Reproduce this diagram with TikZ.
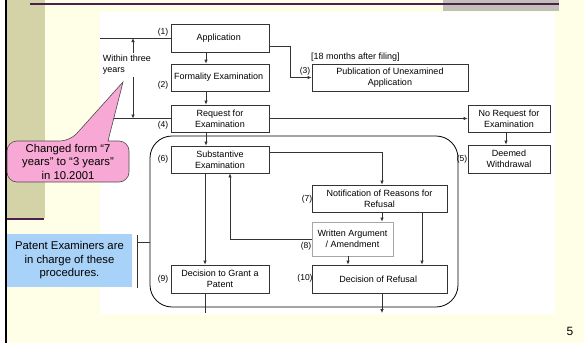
\documentclass[tikz,border=0pt]{standalone}
\usepackage{fontspec}
\setmainfont{Liberation Sans}
\usetikzlibrary{arrows.meta}
\definecolor{slidecream}{RGB}{255,255,232}
\definecolor{slideolive}{RGB}{212,210,167}
\definecolor{slidegray}{RGB}{192,192,184}
\definecolor{slidepurple}{RGB}{78,30,78}
\definecolor{notepink}{RGB}{248,168,212}
\definecolor{noteblue}{RGB}{168,210,248}
\begin{document}
\begin{tikzpicture}[x=1pt,y=-1pt,>={Latex[length=4pt,width=3.5pt]},
    box/.style={draw=black!80,line width=0.7pt,align=center,inner sep=1pt,
      font=\fontsize{9}{11}\selectfont},
    numlbl/.style={inner sep=0pt,font=\fontsize{8.5}{10}\selectfont},
    note/.style={align=center,inner sep=0pt,font=\fontsize{11.3}{13.5}\selectfont},
    flow/.style={line width=0.7pt,draw=black!80}]
      \useasboundingbox (0,0) rectangle (584,343);
      % Slide background
      \fill[white] (0,0) rectangle (584,343);
      \fill[slidecream] (6,0) rectangle (584,343);
      \fill[slideolive] (6,0) rectangle (45,218);
      \fill[slidegray] (443,0) rectangle (559,11);
      \fill[white] (100,12) rectangle (555,314);
      \draw[slidepurple,line width=2pt] (30,4) -- (559,4);
      \draw[slidepurple,line width=2pt] (6,219) -- (44,219);
      \draw[line width=1.5pt] (6,0) -- (6,343);
      % Nodes: Procedure boxes
      \node[box,minimum width=98pt,minimum height=28pt] (app) at (220,38) { Application };
      \node[box,minimum width=98pt,minimum height=27pt] (form) at (220,77.5) { Formality Examination };
      \node[box,minimum width=98pt,minimum height=27pt] (req) at (220,118.5) { Request for\\Examination };
      \node[box,minimum width=98pt,minimum height=27pt] (subst) at (220,159.5) { Substantive\\Examination };
      \node[box,minimum width=98pt,minimum height=28pt] (grant) at (220,279) { Decision to Grant a\\Patent };
      \node[box,minimum width=156pt,minimum height=27pt] (pub) at (390,77.5) { Publication of Unexamined\\Application };
      \node[box,minimum width=82pt,minimum height=27pt] (noreq) at (509,118.5) { No Request for\\Examination };
      \node[box,minimum width=82pt,minimum height=28pt] (withdr) at (509,159) { Deemed\\Withdrawal };
      \node[box,minimum width=135pt,minimum height=27pt] (notif) at (379.5,198.5) { Notification of Reasons for\\Refusal };
      \node[box,draw=black!35,minimum width=81pt,minimum height=34pt] (written) at (352.5,239) { Written Argument\\/ Amendment };
      \node[box,minimum width=135pt,minimum height=28pt] (refusal) at (379.5,279) { Decision of Refusal };
      \node[draw,line width=0.8pt,rounded corners=22pt,minimum width=308pt,minimum height=171pt] (exam) at (304,221.5) {};
      % Nodes: Step numbers
      \node[numlbl] (l1) at (163,32) { (1) };
      \node[numlbl] (l2) at (163,85) { (2) };
      \node[numlbl] (l3) at (305,71) { (3) };
      \node[numlbl] (l4) at (163,125) { (4) };
      \node[numlbl] (l5) at (462,159) { (5) };
      \node[numlbl] (l6) at (163,159) { (6) };
      \node[numlbl] (l7) at (307,199) { (7) };
      \node[numlbl] (l8) at (306,246) { (8) };
      \node[numlbl] (l9) at (163,279) { (9) };
      \node[numlbl] (l10) at (305,278) { (10) };
      \node[numlbl,anchor=west,font=\fontsize{9}{11}\selectfont] (lag) at (311,57) { [18 months after filing] };
      \node[align=left,inner sep=2pt,font=\fontsize{9}{11}\selectfont] (within) at (127,65) { Within three\\years };
      % Arrows: main flow
      \draw[flow,->] ([xshift=-14pt]app.south) -- ([xshift=-14pt]form.north);
      \draw[flow,->] ([xshift=-14pt]form.south) -- ([xshift=-14pt]req.north);
      \draw[flow,->] ([xshift=-14pt]req.south) -- ([xshift=-14pt]subst.north);
      \draw[flow,->] ([xshift=-15pt]subst.south) -- ([xshift=-15pt]grant.north);
      \coordinate (bend3) at (290,77.5);
      \draw[flow,->] ([yshift=-8pt]app.east) -| (bend3) -- (pub.west);
      \draw[flow,->] (req.east) -- (noreq.west);
      \draw[flow,->] ([xshift=-3pt]noreq.south) -- ([xshift=-3pt]withdr.north);
      \draw[flow,->] ([yshift=7.5pt]subst.east) -| ([xshift=2.5pt]notif.north);
      \draw[flow,->] ([xshift=2.5pt]notif.south) -- ([xshift=2.5pt]notif.south |- written.north);
      \draw[flow,->] ([xshift=42.5pt]notif.south) -- ([xshift=42.5pt]refusal.north);
      \draw[flow,->] ([xshift=-4.5pt]written.south) -- ([xshift=-4.5pt]written.south |- refusal.north);
      \draw[flow,->] (written.west) -| ([xshift=10pt]subst.south);
      \coordinate (refout) at (382,313);
      \coordinate (grantout) at (205,313);
      \draw[flow,->] (refusal.south -| refout) -- (refout);
      \draw[flow] (grant.south -| grantout) -- (grantout);
      % Arrows: period of three years
      \coordinate (wt) at (133,38);
      \coordinate (wb) at (133,118.5);
      \draw[flow] (wt -| 100,0) -- (app.west);
      \draw[flow] (wb -| 100,0) -- (req.west);
      \draw[flow,->] (within.north -| wt) -- (wt);
      \draw[flow,->] (within.south -| wb) -- (wb);
      % Callouts
      \draw[draw=black!70,fill=notepink,line width=0.6pt] (7,160) [rounded corners=10pt] -- (7,141) -- (70,141)
        [sharp corners] -- (123,82) -- (108,141) [rounded corners=10pt] -- (129,141) -- (129,182) -- (7,182) -- cycle;
      \node[note] (changed) at (68,161.5) { Changed form “7\\years” to “3 years”\\in 10.2001 };
      \node[note,fill=noteblue,minimum width=125pt,minimum height=53pt] (examnote) at (69.5,260.5) { Patent Examiners are\\in charge of these\\procedures. };
      \coordinate (brk) at (137,242);
      \draw[flow] (137,235) -- (137,288);
      \draw[flow] (brk) -- (brk -| exam.west);
      \node[font=\fontsize{12}{14}\selectfont] (pagenum) at (570,331) { 5 };
\end{tikzpicture}
\end{document}
